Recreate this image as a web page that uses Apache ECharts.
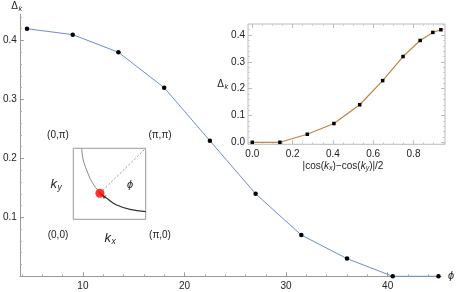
<!DOCTYPE html>
<html>
<head>
<meta charset="utf-8">
<script src="https://cdn.jsdelivr.net/npm/echarts@6/dist/echarts.min.js"></script>
<style>html,body{margin:0;padding:0;background:#fff;}#c{width:457px;height:292px;}</style>
</head>
<body>
<div id="c"></div>
<script>
// ---- data ----
const phi = [4.5, 9, 13.5, 18, 22.5, 27, 31.5, 36, 40.5, 45];
const gap = [0.42, 0.41, 0.38, 0.32, 0.23, 0.14, 0.07, 0.03, 0.0, 0.0];
const insetX = [0, 0.137, 0.273, 0.405, 0.533, 0.647, 0.748, 0.833, 0.896, 0.936];
const insetGap = [0.0, 0.0, 0.03, 0.07, 0.14, 0.23, 0.32, 0.38, 0.41, 0.42];
const mainXTicks = [10, 20, 30, 40];
const mainYTicks = [0.1, 0.2, 0.3, 0.4];
const insetXTicks = [0, 0.2, 0.4, 0.6, 0.8];
const insetYTicks = [0, 0.1, 0.2, 0.3, 0.4];
// schematic Fermi-surface sketch (kx, ky)
const fsUpper = [[0.36, 3.1416], [0.43, 2.63], [0.58, 2.18], [0.80, 1.67], [1.155, 1.155]];
const fsLower = [[1.155, 1.155], [1.45, 0.93], [1.88, 0.63], [2.46, 0.44], [3.1416, 0.34]];
const kPoint = [1.155, 1.155];

function minorList(lo, hi, step, majorStep) {
  const out = [];
  for (let i = Math.round(lo / step); i * step <= hi + 1e-9; i++) {
    const v = Math.round(i * step * 1000) / 1000;
    if (Math.abs(v / majorStep - Math.round(v / majorStep)) > 1e-6) out.push(v);
  }
  return out;
}

const PI = Math.PI;
const txt = '#222';
const font = 'Liberation Sans, Arial, sans-serif';

function ax(o) {
  return Object.assign({
    type: 'value', splitLine: {show: false},
    axisLine: {show: false, onZero: false}, axisLabel: {show: false}, axisTick: {show: false}
  }, o);
}

const main = {xmin: 3.8, xmax: 45.25, ymin: 0, ymax: 0.445};
const ins = {xmin: -0.0213, xmax: 0.9563, ymin: -0.0075, ymax: 0.4414};

const xAxes = [
  ax({gridIndex: 0, position: 'bottom', min: main.xmin, max: main.xmax,
      axisLine: {show: true, onZero: false, lineStyle: {color: '#999', width: 1}},
      axisTick: {show: true, inside: true, length: 4, customValues: mainXTicks, lineStyle: {color: '#999'}},
      axisLabel: {show: true, customValues: mainXTicks, margin: 5, color: txt, fontSize: 10, fontFamily: font}}),
  ax({gridIndex: 0, position: 'bottom', min: main.xmin, max: main.xmax,
      axisTick: {show: true, inside: true, length: 2, customValues: minorList(4, 45, 2, 10), lineStyle: {color: '#aaa'}}}),
  ax({gridIndex: 1, position: 'bottom', min: ins.xmin, max: ins.xmax,
      axisTick: {show: true, inside: true, length: 4, customValues: insetXTicks, lineStyle: {color: '#bbb'}},
      axisLabel: {show: true, customValues: insetXTicks, margin: 5, color: txt, fontSize: 10, fontFamily: font,
                  formatter: v => v.toFixed(1)}}),
  ax({gridIndex: 1, position: 'bottom', min: ins.xmin, max: ins.xmax,
      axisTick: {show: true, inside: true, length: 2, customValues: minorList(0, 0.95, 0.05, 0.2), lineStyle: {color: '#ccc'}}}),
  ax({gridIndex: 1, min: ins.xmin, max: ins.xmax, position: 'top',
      axisTick: {show: true, inside: true, length: 4, customValues: insetXTicks, lineStyle: {color: '#bbb'}}}),
  ax({gridIndex: 1, min: ins.xmin, max: ins.xmax, position: 'top',
      axisTick: {show: true, inside: true, length: 2, customValues: minorList(0, 0.95, 0.05, 0.2), lineStyle: {color: '#ccc'}}}),
  ax({gridIndex: 2, min: 0, max: PI})
];
const yAxes = [
  ax({gridIndex: 0, position: 'left', min: main.ymin, max: main.ymax,
      axisLine: {show: true, onZero: false, lineStyle: {color: '#999', width: 1}},
      axisTick: {show: true, inside: true, length: 4, customValues: mainYTicks, lineStyle: {color: '#999'}},
      axisLabel: {show: true, customValues: mainYTicks, margin: 3, color: txt, fontSize: 10, fontFamily: font,
                  formatter: v => v.toFixed(1)}}),
  ax({gridIndex: 0, position: 'left', min: main.ymin, max: main.ymax,
      axisTick: {show: true, inside: true, length: 2, customValues: minorList(0.02, 0.44, 0.02, 0.1), lineStyle: {color: '#aaa'}}}),
  ax({gridIndex: 1, position: 'left', min: ins.ymin, max: ins.ymax,
      axisTick: {show: true, inside: true, length: 4, customValues: insetYTicks, lineStyle: {color: '#bbb'}},
      axisLabel: {show: true, customValues: insetYTicks, margin: 3, color: txt, fontSize: 10, fontFamily: font,
                  formatter: v => v.toFixed(1)}}),
  ax({gridIndex: 1, position: 'left', min: ins.ymin, max: ins.ymax,
      axisTick: {show: true, inside: true, length: 2, customValues: minorList(0, 0.44, 0.02, 0.1), lineStyle: {color: '#ccc'}}}),
  ax({gridIndex: 1, min: ins.ymin, max: ins.ymax, position: 'right',
      axisTick: {show: true, inside: true, length: 4, customValues: insetYTicks, lineStyle: {color: '#bbb'}}}),
  ax({gridIndex: 1, min: ins.ymin, max: ins.ymax, position: 'right',
      axisTick: {show: true, inside: true, length: 2, customValues: minorList(0, 0.44, 0.02, 0.1), lineStyle: {color: '#ccc'}}}),
  ax({gridIndex: 2, min: 0, max: PI})
];

function t(x, y, text) {
  return {type: 'text', x: x, y: y, z: 100,
    style: {text: text, fill: txt, fontSize: 10, fontFamily: font, align: 'center', verticalAlign: 'middle'}};
}
function kLabel(x, y, s) {
  return {type: 'group', x: x, y: y, z: 100, children: [
    {type: 'text', x: 0, y: 0, style: {text: 'k', fontSize: 13, fontStyle: 'italic', fontFamily: font, fill: txt, align: 'right', verticalAlign: 'middle'}},
    {type: 'text', x: 0.5, y: 3.5, style: {text: s, fontSize: 8.5, fontStyle: 'italic', fontFamily: font, fill: txt, align: 'left', verticalAlign: 'middle'}}
  ]};
}
function deltaLabel(x, y, size) {
  return {type: 'group', x: x, y: y, z: 100, children: [
    {type: 'text', x: 0, y: 0, style: {text: 'Δ', fontSize: size, fontFamily: font, fill: txt, align: 'right', verticalAlign: 'middle'}},
    {type: 'text', x: 0.5, y: size * 0.3, style: {text: 'k', fontSize: size * 0.72, fontStyle: 'italic', fontFamily: font, fill: txt, align: 'left', verticalAlign: 'middle'}}
  ]};
}

const option = {
  animation: false,
  backgroundColor: '#fff',
  grid: [
    {left: 17, right: 16, top: 14, bottom: 15.7},
    {left: 248, right: 12, top: 24, bottom: 147.7, show: true, borderColor: '#bbb', borderWidth: 1, backgroundColor: 'transparent'},
    {left: 73.3, width: 72.4, top: 148.3, height: 71, show: true, borderColor: '#999', borderWidth: 1, backgroundColor: 'transparent'}
  ],
  xAxis: xAxes,
  yAxis: yAxes,
  series: [
    {type: 'line', xAxisIndex: 0, yAxisIndex: 0, data: phi.map((p, i) => [p, gap[i]]),
     lineStyle: {color: '#6a8fcc', width: 1}, symbol: 'circle', symbolSize: 4.5,
     itemStyle: {color: '#000'}, clip: false},
    {type: 'line', xAxisIndex: 2, yAxisIndex: 2, data: insetX.map((p, i) => [p, insetGap[i]]),
     lineStyle: {color: '#c08545', width: 1.2}, symbol: 'rect', symbolSize: 3.5,
     itemStyle: {color: '#000'}},
    {type: 'line', xAxisIndex: 6, yAxisIndex: 6, data: fsUpper, smooth: 0.4, showSymbol: false,
     lineStyle: {color: '#888', width: 1}},
    {type: 'line', xAxisIndex: 6, yAxisIndex: 6, data: fsLower, smooth: 0.4, showSymbol: false,
     lineStyle: {color: '#333', width: 1.2}},
    {type: 'line', xAxisIndex: 6, yAxisIndex: 6, data: [kPoint, [PI, PI]], showSymbol: false,
     lineStyle: {color: '#777', width: 0.8, type: [2, 2]}},
    {type: 'lines', coordinateSystem: 'cartesian2d', xAxisIndex: 6, yAxisIndex: 6,
     data: [{coords: [[1.38, 0.97], [1.27, 1.05]]}], symbol: ['none', 'arrow'], symbolSize: 3.5,
     lineStyle: {color: '#333', width: 1, opacity: 1}},
    {type: 'scatter', xAxisIndex: 6, yAxisIndex: 6, data: [kPoint], symbolSize: 9,
     itemStyle: {color: '#ff0000'}, z: 10}
  ],
  graphic: [
    deltaLabel(18, 6, 10),
    deltaLabel(224, 84, 10),
    {type: 'text', x: 451, y: 276, z: 100, style: {text: 'ϕ', fontSize: 11, fontStyle: 'italic', fontFamily: font, fill: txt, align: 'center', verticalAlign: 'middle'}},
    {type: 'text', x: 130, y: 185, z: 100, style: {text: 'ϕ', fontSize: 11, fontStyle: 'italic', fontFamily: font, fill: txt, align: 'center', verticalAlign: 'middle'}},
    t(58, 135, '(0,π)'),
    t(160, 135, '(π,π)'),
    t(58, 235, '(0,0)'),
    t(160, 235, '(π,0)'),
    kLabel(57, 184, 'y'),
    kLabel(111, 238, 'x'),
    {type: 'text', x: 343, y: 166, z: 100, style: {
      rich: {
        n: {fontSize: 10, fontFamily: font, fill: txt},
        i: {fontSize: 10, fontStyle: 'italic', fontFamily: font, fill: txt},
        s: {fontSize: 7, fontStyle: 'italic', fontFamily: font, fill: txt, padding: [5, 0, 0, 0]}
      },
      text: '{n||cos(}{i|k}{s|x}{n|)−cos(}{i|k}{s|y}{n|)|/2}',
      align: 'center', verticalAlign: 'middle'}}
  ]
};
echarts.init(document.getElementById('c'), null, {renderer: 'canvas'}).setOption(option);
</script>
</body>
</html>
